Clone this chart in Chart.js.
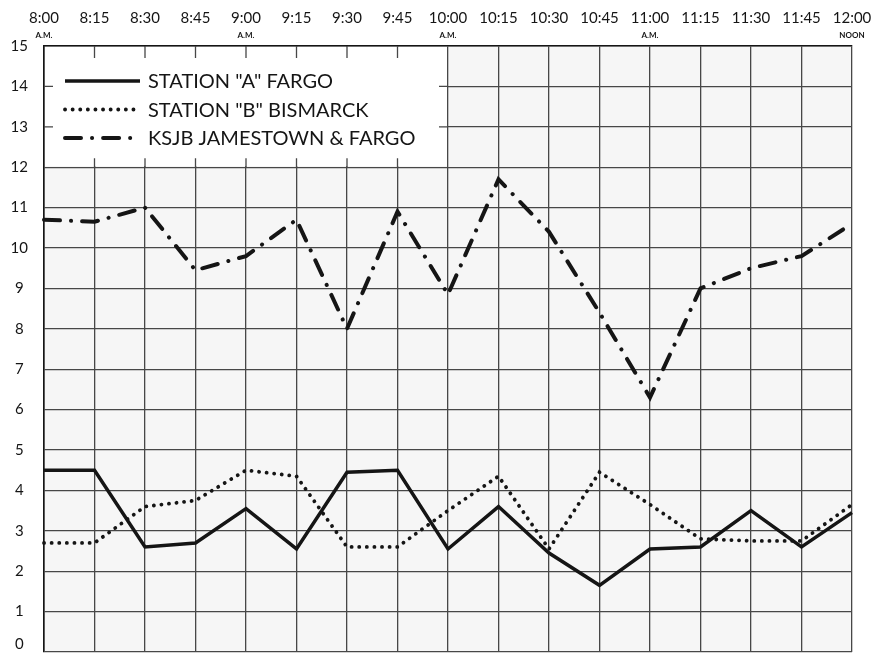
<!DOCTYPE html>
<html>
<head>
<meta charset="utf-8">
<script src="https://cdn.jsdelivr.net/npm/chart.js@4.4.1/dist/chart.umd.min.js"></script>
<style>
body { margin: 0; background: #fff; }
#wrap { width: 876px; height: 653px; }
</style>
</head>
<body>
<div id="wrap"><canvas id="chart" width="876" height="653"></canvas></div>
<script>
// time of day along the top axis, every 15 minutes
const times = ['8:00', '8:15', '8:30', '8:45', '9:00', '9:15', '9:30', '9:45', '10:00',
               '10:15', '10:30', '10:45', '11:00', '11:15', '11:30', '11:45', '12:00'];
const timeNotes = ['A.M.', '', '', '', 'A.M.', '', '', '', 'A.M.',
                   '', '', '', 'A.M.', '', '', '', 'NOON'];

const stationA = [4.5, 4.5, 2.6, 2.7, 3.55, 2.55, 4.45, 4.5, 2.55, 3.6, 2.45, 1.65, 2.55, 2.6, 3.5, 2.6, 3.45];
const stationB = [2.7, 2.7, 3.6, 3.75, 4.5, 4.35, 2.6, 2.6, 3.5, 4.35, 2.55, 4.45, 3.65, 2.8, 2.75, 2.75, 3.65];
const ksjb     = [10.7, 10.65, 11.0, 9.45, 9.8, 10.7, 8.0, 10.9, 8.85, 11.7, 10.4, 8.4, 6.3, 9.0, 9.5, 9.8, 10.6];

const seriesNames = ['STATION "A" FARGO', 'STATION "B" BISMARCK', 'KSJB JAMESTOWN & FARGO'];

const INK = '#151515';
const GRID = '#474747';
const FONT = 'Lato';

// light grey paper inside the grid
const plotBackground = {
    id: 'plotBackground',
    beforeDraw(chart) {
        const {ctx, chartArea: a} = chart;
        ctx.save();
        ctx.fillStyle = '#f6f6f6';
        ctx.fillRect(a.left, a.top, a.right - a.left, a.bottom - a.top);
        ctx.restore();
    }
};

// white legend panel pasted over the upper left cells
const legendBox = {
    id: 'legendBox',
    beforeDatasetsDraw(chart) {
        const {ctx, chartArea: a, scales: {x, y}} = chart;
        const right = x.getPixelForValue(8);
        const bottom = y.getPixelForValue(12);
        ctx.save();
        ctx.fillStyle = '#fff';
        ctx.fillRect(a.left + 1, a.top + 1, right - a.left - 2, bottom - a.top - 2);

        ctx.strokeStyle = GRID;
        ctx.lineWidth = 1.3;
        ctx.beginPath();
        for (let i = 1; i < 8; i++) {
            const px = x.getPixelForValue(i);
            ctx.moveTo(px, a.top); ctx.lineTo(px, a.top + 12);
            ctx.moveTo(px, bottom); ctx.lineTo(px, bottom - 9);
        }
        [14, 13].forEach(v => {
            const py = y.getPixelForValue(v);
            ctx.moveTo(a.left, py); ctx.lineTo(a.left + 9, py);
            ctx.moveTo(right, py); ctx.lineTo(right - 9, py);
        });
        ctx.stroke();

        chart.data.datasets.forEach((ds, i) => {
            const rowY = a.top + 35 + i * 28.5;
            ctx.beginPath();
            ctx.setLineDash(ds.borderDash || []);
            ctx.lineCap = ds.borderCapStyle || 'butt';
            ctx.lineWidth = ds.borderWidth;
            ctx.strokeStyle = ds.borderColor;
            ctx.moveTo(a.left + 21, rowY);
            ctx.lineTo(a.left + 96, rowY);
            ctx.stroke();
            ctx.setLineDash([]);
            ctx.fillStyle = INK;
            ctx.font = '20px ' + FONT;
            ctx.textAlign = 'left';
            ctx.textBaseline = 'middle';
            ctx.fillText(ds.label, a.left + 104, rowY + 1);
        });
        ctx.restore();
    }
};

// small A.M. / NOON notes under the hours, and the 0 raised off the bottom edge
const axisNotes = {
    id: 'axisNotes',
    afterDraw(chart) {
        const {ctx, scales: {x, y}} = chart;
        ctx.save();
        ctx.fillStyle = INK;
        ctx.font = 'bold 8px ' + FONT;
        ctx.textAlign = 'center';
        ctx.textBaseline = 'middle';
        timeNotes.forEach((note, i) => {
            if (note) ctx.fillText(note, x.getPixelForValue(i), 35);
        });
        ctx.font = '15px ' + FONT;
        const widest = ctx.measureText('15').width;
        const lx = y.right - y.options.ticks.padding - widest / 2;
        ctx.fillText('0', lx, y.getPixelForValue(0) - 8);
        ctx.restore();
    }
};

new Chart(document.getElementById('chart').getContext('2d'), {
    type: 'line',
    data: {
        labels: times,
        datasets: [{
            label: seriesNames[0],
            data: stationA,
            borderColor: INK,
            borderWidth: 3.5,
            borderJoinStyle: 'miter',
            pointRadius: 0,
            tension: 0
        }, {
            label: seriesNames[1],
            data: stationB,
            borderColor: INK,
            borderWidth: 3.8,
            borderDash: [0.1, 7.5],
            borderCapStyle: 'round',
            pointRadius: 0,
            tension: 0
        }, {
            label: seriesNames[2],
            data: ksjb,
            borderColor: INK,
            borderWidth: 4,
            borderDash: [16, 11, 0.1, 11],
            borderCapStyle: 'round',
            pointRadius: 0,
            tension: 0
        }]
    },
    options: {
        responsive: false,
        animation: false,
        devicePixelRatio: 1,
        layout: { padding: { top: 0, right: 24, bottom: 1, left: 0 } },
        plugins: {
            legend: { display: false },
            tooltip: { enabled: false }
        },
        scales: {
            x: {
                position: 'top',
                offset: false,
                afterFit: s => { s.height = 46; s.paddingLeft = 0; s.paddingRight = 0; },
                grid: { color: GRID, lineWidth: 1.3, drawTicks: false },
                border: { color: INK, width: 1.6 },
                ticks: {
                    color: INK,
                    font: { family: FONT, size: 15 },
                    padding: 19,
                    maxRotation: 0,
                    autoSkip: false
                }
            },
            y: {
                min: 0,
                max: 15,
                afterFit: s => { s.width = 44; s.paddingTop = 0; s.paddingBottom = 0; },
                grid: { color: GRID, lineWidth: 1.3, drawTicks: false },
                border: { color: INK, width: 1.6 },
                ticks: {
                    stepSize: 1,
                    color: INK,
                    font: { family: FONT, size: 15 },
                    padding: 16,
                    crossAlign: 'center',
                    callback: v => (v === 0 ? '' : v)
                }
            }
        }
    },
    plugins: [plotBackground, legendBox, axisNotes]
});
</script>
</body>
</html>
